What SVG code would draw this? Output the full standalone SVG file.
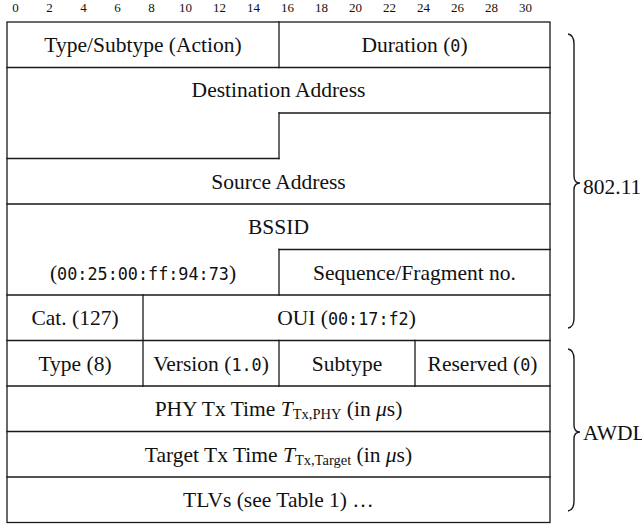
<svg xmlns="http://www.w3.org/2000/svg" width="642" height="524" viewBox="0 0 642 524">
<style>
.ln{stroke:#1a1a1a;stroke-width:1.3;fill:none;stroke-linecap:square}
.t{font-family:"Liberation Serif","DejaVu Serif",serif;font-size:21.5px;fill:#111;text-anchor:middle}
.m{font-family:"DejaVu Sans Mono","Liberation Mono",monospace;font-size:16.8px}
.r{font-family:"Liberation Serif",serif;font-size:13px;fill:#111;text-anchor:middle}
.sub{font-size:14.5px}
.br{stroke:#1a1a1a;stroke-width:1.4;fill:none}
</style>
<rect width="642" height="524" fill="#fff"/>
<g id="ruler">
<text class="r" x="15.5" y="12">0</text>
<text class="r" x="49.5" y="12">2</text>
<text class="r" x="83.5" y="12">4</text>
<text class="r" x="117.5" y="12">6</text>
<text class="r" x="151.5" y="12">8</text>
<text class="r" x="185.5" y="12">10</text>
<text class="r" x="219.5" y="12">12</text>
<text class="r" x="253.5" y="12">14</text>
<text class="r" x="287.5" y="12">16</text>
<text class="r" x="321.5" y="12">18</text>
<text class="r" x="355.5" y="12">20</text>
<text class="r" x="389.5" y="12">22</text>
<text class="r" x="423.5" y="12">24</text>
<text class="r" x="457.5" y="12">26</text>
<text class="r" x="491.5" y="12">28</text>
<text class="r" x="525.5" y="12">30</text>
</g>
<g id="connectors">
<rect class="ln" x="7" y="22" width="543" height="500.5"/>
<path class="ln" d="M7,67.5H550 M279,113H550 M7,158.5H279 M7,204H550 M279,249.5H550 M7,295H550 M7,340.5H550 M7,386H550 M7,431.5H550 M7,477H550"/>
<path class="ln" d="M279,22V67.5 M279,113V158.5 M279,249.5V295 M143,295V386 M279,340.5V386 M415,340.5V386"/>
</g>
<g id="type-subtype"><text class="t" x="143" y="51.5">Type/Subtype (Action)</text></g>
<g id="duration"><text class="t" x="414.5" y="51.5">Duration (<tspan class="m">0</tspan>)</text></g>
<g id="dest-addr"><text class="t" x="278.5" y="97">Destination Address</text></g>
<g id="src-addr"><text class="t" x="278.5" y="188.5">Source Address</text></g>
<g id="bssid"><text class="t" x="278.5" y="234">BSSID</text></g>
<g id="bssid-value"><text class="t" x="143" y="279.5">(<tspan class="m">00:25:00:ff:94:73</tspan>)</text></g>
<g id="seq-frag"><text class="t" x="414.5" y="279.5">Sequence/Fragment no.</text></g>
<g id="cat"><text class="t" x="75" y="325">Cat. (127)</text></g>
<g id="oui"><text class="t" x="346.5" y="325">OUI (<tspan class="m">00:17:f2</tspan>)</text></g>
<g id="awdl-type"><text class="t" x="75" y="370.5">Type (8)</text></g>
<g id="version"><text class="t" x="211" y="370.5">Version (<tspan class="m">1.0</tspan>)</text></g>
<g id="subtype"><text class="t" x="347" y="370.5">Subtype</text></g>
<g id="reserved"><text class="t" x="482.5" y="370.5">Reserved (<tspan class="m">0</tspan>)</text></g>
<g id="phy-tx"><text class="t" x="278.5" y="416">PHY Tx Time <tspan font-style="italic">T</tspan><tspan class="sub" dy="3">Tx,PHY</tspan><tspan dy="-3"> (in </tspan><tspan font-style="italic">μ</tspan>s)</text></g>
<g id="target-tx"><text class="t" x="278.5" y="461.5">Target Tx Time <tspan font-style="italic">T</tspan><tspan class="sub" dy="3">Tx,Target</tspan><tspan dy="-3"> (in </tspan><tspan font-style="italic">μ</tspan>s)</text></g>
<g id="tlvs"><text class="t" x="278.5" y="507">TLVs (see Table 1) …</text></g>
<g id="brace-80211">
<path class="br" d="M568,34 Q574,35 574,44 L574,176 Q574,183 580,183 Q574,183 574,190 L574,318 Q574,327 568,328"/>
<text class="t" x="583" y="193.5" style="text-anchor:start">802.11</text>
</g>
<g id="brace-awdl">
<path class="br" d="M568,349 Q574,350 574,359 L574,425 Q574,432 580,432 Q574,432 574,439 L574,501 Q574,510 568,511"/>
<text class="t" x="583" y="439.5" style="text-anchor:start">AWDL</text>
</g>
</svg>
